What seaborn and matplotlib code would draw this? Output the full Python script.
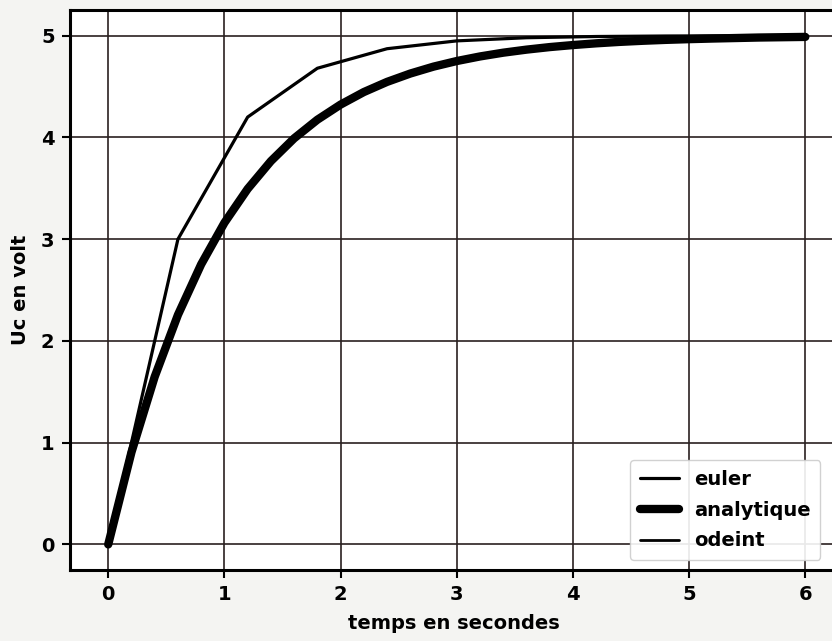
import matplotlib
matplotlib.use("Agg")
import matplotlib.pyplot as plt
import seaborn as sns
import pandas as pd

# Euler (step 0.6)
t_euler = [0.0, 0.6, 1.2, 1.8, 2.4, 3.0, 3.6, 4.2, 4.8, 5.4, 6.0]
u_euler = [0.0, 3.0, 4.2, 4.68, 4.872, 4.949, 4.98, 4.992, 4.997, 4.999, 5.0]

# Analytic solution
t_fine = [0.0, 0.2, 0.4, 0.6, 0.8, 1.0, 1.2, 1.4, 1.6, 1.8, 2.0, 2.2, 2.4, 2.6, 2.8,
          3.0, 3.2, 3.4, 3.6, 3.8, 4.0, 4.2, 4.4, 4.6, 4.8, 5.0, 5.2, 5.4, 5.6, 5.8, 6.0]
u_analytic = [0.0, 0.906, 1.648, 2.256, 2.753, 3.161, 3.494, 3.767, 3.991, 4.174, 4.323,
              4.446, 4.546, 4.628, 4.696, 4.751, 4.796, 4.833, 4.863, 4.888, 4.908,
              4.925, 4.939, 4.950, 4.959, 4.966, 4.972, 4.977, 4.982, 4.985, 4.988]

# odeint (thin line, nearly on top of the analytic curve)
t_odeint = [0.0, 0.3, 0.6, 0.9, 1.2, 1.5, 1.8, 2.1, 2.4, 2.7, 3.0, 3.3, 3.6, 3.9, 4.2,
            4.5, 4.8, 5.1, 5.4, 5.7, 6.0]
u_odeint = [0.0, 1.296, 2.256, 2.967, 3.494, 3.884, 4.174, 4.388, 4.546, 4.664, 4.751,
            4.816, 4.863, 4.899, 4.925, 4.944, 4.959, 4.970, 4.977, 4.983, 4.988]

x_ticks = [0, 1, 2, 3, 4, 5, 6]
y_ticks = [0, 1, 2, 3, 4, 5]

sns.set_theme(style="whitegrid")
plt.rcParams['font.family'] = ['DejaVu Sans']

fig = plt.figure(figsize=(8.32, 6.41), dpi=100)
fig.patch.set_facecolor("#f4f4f2")
ax = fig.add_axes([0.084, 0.111, 0.923, 0.873])
ax.set_facecolor("white")

df_e = pd.DataFrame({"t": t_euler, "u": u_euler})
df_a = pd.DataFrame({"t": t_fine, "u": u_analytic})
df_o = pd.DataFrame({"t": t_odeint, "u": u_odeint})

sns.lineplot(data=df_e, x="t", y="u", ax=ax, color="black", lw=2.3, label="euler")
sns.lineplot(data=df_a, x="t", y="u", ax=ax, color="black", lw=6, label="analytique")
sns.lineplot(data=df_o, x="t", y="u", ax=ax, color="black", lw=2.0, label="odeint")

ax.set_xlim(-0.33, 6.28)
ax.set_ylim(-0.25, 5.25)
ax.set_xticks(x_ticks)
ax.set_yticks(y_ticks)
ax.grid(True, color="#2a2020", lw=1.2)
for s in ax.spines.values():
    s.set_color("black")
    s.set_linewidth(2.2)
ax.tick_params(axis="both", which="major", length=6, width=1.5, color="black",
               labelsize=14, labelcolor="black", bottom=True, left=True, pad=5)
for lab in ax.get_xticklabels() + ax.get_yticklabels():
    lab.set_fontweight("bold")
ax.set_xlabel("temps en secondes", fontsize=14, fontweight="bold", labelpad=7,
              color="black")
ax.set_ylabel("Uc en volt", fontsize=14, fontweight="bold", labelpad=8, color="black")

leg = ax.legend(loc="lower right", fontsize=14, frameon=True, fancybox=True,
                framealpha=0.9, edgecolor="#cccccc", handlelength=2.0,
                bbox_to_anchor=(0.99, 0.0), borderaxespad=0.5, labelspacing=0.6,
                borderpad=0.5)
for t in leg.get_texts():
    t.set_fontweight("bold")
    t.set_color("black")

fig.savefig("out.png", dpi=100, facecolor=fig.get_facecolor())
